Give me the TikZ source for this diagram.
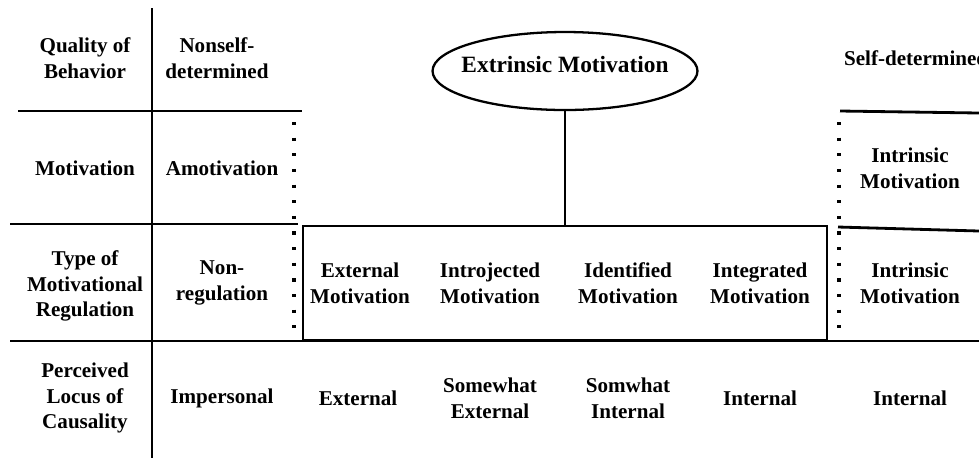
\documentclass[tikz,border=0pt]{standalone}
\usepackage{fontspec}
\setmainfont{Liberation Serif}
\usetikzlibrary{positioning,shapes.geometric}

\tikzset{
  cell/.style={align=center, inner sep=1pt, font=\bfseries\fontsize{12}{14.7}\selectfont},
  rule/.style={line width=1.6pt},
  dotrule/.style={line width=1.8pt, dash pattern=on 1.8pt off 7.1pt},
}

\begin{document}
\begin{tikzpicture}[x=0.02cm, y=-0.02cm]
  \useasboundingbox (0,0) rectangle (979,458);

  % grid lines
  \draw[rule] (152,8) -- (152,458);
  \draw[rule] (18,111) -- (302,111);
  \draw[rule] (10,224) -- (298,224);
  \draw[rule] (840,111) -- (979,113);
  \draw[rule] (838,227) -- (979,231);
  \draw[rule] (10,341) -- (979,341);
  \draw[dotrule] (294,122) -- (294,340);
  \draw[dotrule] (839,122) -- (839,340);

  % extrinsic motivation group
  \node[draw, ellipse, line width=1.3pt, inner sep=0pt, minimum width=5.3cm, minimum height=1.56cm] (extr) at (565,71) {};
  \node[cell, font=\bfseries\fontsize{13.3}{15}\selectfont] (extrtxt) at (565,64) {Extrinsic Motivation};
  \node[draw, line width=1.3pt, minimum width=10.48cm, minimum height=2.28cm] (extbox) at (565,283) {};
  \draw[line width=1.3pt] (extr.south) -- (extbox.north);

  % row 1: quality of behavior
  \node[cell] (qual) at (85,58) {Quality of\\Behavior};
  \node[cell] (nonself) at (217,58) {Nonself-\\determined};
  \node[cell, anchor=west] (selfdet) at (842,58) {Self-determined};

  % row 2: motivation
  \node[cell] (motiv) at (85,168) {Motivation};
  \node[cell] (amotiv) at (222,168) {Amotivation};
  \node[cell] (intrmot) at (910,168) {Intrinsic\\Motivation};

  % row 3: type of regulation
  \node[cell] (typereg) at (85,286) {Type of\\Motivational\\Regulation};
  \node[cell] (nonreg) at (222,283) {Non-\\regulation};
  \node[cell] (external) at (360,283) {External\\Motivation};
  \node[cell] (introj) at (490,283) {Introjected\\Motivation};
  \node[cell] (ident) at (628,283) {Identified\\Motivation};
  \node[cell] (integr) at (760,283) {Integrated\\Motivation};
  \node[cell] (intrreg) at (910,283) {Intrinsic\\Motivation};

  % row 4: perceived locus of causality
  \node[cell] (locus) at (85,398) {Perceived\\Locus of\\Causality};
  \node[cell] (impers) at (222,398) {Impersonal};
  \node[cell] (locext) at (358,398) {External};
  \node[cell] (swext) at (490,398) {Somewhat\\External};
  \node[cell] (swint) at (628,398) {Somwhat\\Internal};
  \node[cell] (locint) at (760,398) {Internal};
  \node[cell] (locintr) at (910,398) {Internal};
\end{tikzpicture}
\end{document}
